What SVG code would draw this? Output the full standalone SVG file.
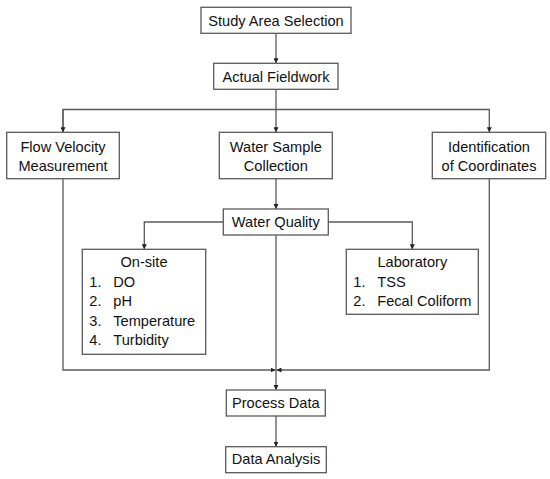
<svg xmlns="http://www.w3.org/2000/svg" width="550" height="479" viewBox="0 0 550 479">
<style>
.box{fill:#fff;stroke:#5a5a5a;stroke-width:1.3}
.ln{fill:none;stroke:#5a5a5a;stroke-width:1.3}
text{font-family:"Liberation Sans",Arial,sans-serif;font-size:14.6px;fill:#111}
.c{text-anchor:middle}
</style>
<defs>
<marker id="ah" viewBox="0 0 6 6" refX="6" refY="3" markerWidth="5" markerHeight="5" orient="auto" markerUnits="userSpaceOnUse">
<path d="M0,0 L6,3 L0,6 Z" fill="#222"/>
</marker>
</defs>
<rect width="550" height="479" fill="#fff"/>
<g id="connectors">
<path class="ln" d="M276,33.3 V63.3" marker-end="url(#ah)"/>
<path class="ln" d="M276,89.3 V132.3" marker-end="url(#ah)"/>
<path class="ln" d="M63,132.3 V109.5 H489.3 V132.3" marker-end="url(#ah)"/>
<path class="ln" d="M63,109.5 V132.3" marker-end="url(#ah)"/>
<path class="ln" d="M276,178.7 V209" marker-end="url(#ah)"/>
<path class="ln" d="M223.3,222 H144.3 V249.3" marker-end="url(#ah)"/>
<path class="ln" d="M328.3,222 H412.3 V249.3" marker-end="url(#ah)"/>
<path class="ln" d="M276,235 V390" marker-end="url(#ah)"/>
<path class="ln" d="M63,178.7 V370 H275.5" marker-end="url(#ah)"/>
<path class="ln" d="M489.3,178.7 V370 H276.5" marker-end="url(#ah)"/>
<path class="ln" d="M276,416 V446.7" marker-end="url(#ah)"/>
</g>
<g id="study-area">
<rect class="box" x="201" y="7.3" width="150" height="26"/>
<text class="c" x="276" y="26">Study Area Selection</text>
</g>
<g id="actual-fieldwork">
<rect class="box" x="213.7" y="63.3" width="124.3" height="26"/>
<text class="c" x="276" y="82">Actual Fieldwork</text>
</g>
<g id="flow-velocity">
<rect class="box" x="6.7" y="132.3" width="112.6" height="46.4"/>
<text class="c" x="63" y="151.7">Flow Velocity</text>
<text class="c" x="63" y="170.7">Measurement</text>
</g>
<g id="water-sample">
<rect class="box" x="219.3" y="132.3" width="113" height="46.4"/>
<text class="c" x="275.8" y="151.7">Water Sample</text>
<text class="c" x="275.8" y="170.7">Collection</text>
</g>
<g id="identification">
<rect class="box" x="432.3" y="132.3" width="113.4" height="46.4"/>
<text class="c" x="489" y="151.7">Identification</text>
<text class="c" x="489" y="170.7">of Coordinates</text>
</g>
<g id="water-quality">
<rect class="box" x="223.3" y="209" width="105" height="26"/>
<text class="c" x="275.8" y="226.7">Water Quality</text>
</g>
<g id="on-site">
<rect class="box" x="82.3" y="249.3" width="123.4" height="105"/>
<text class="c" x="144" y="266.7">On-site</text>
<text x="89.3" y="286.7">1.</text><text x="113.3" y="286.7">DO</text>
<text x="89.3" y="306">2.</text><text x="113.3" y="306">pH</text>
<text x="89.3" y="325.5">3.</text><text x="113.3" y="325.5">Temperature</text>
<text x="89.3" y="345">4.</text><text x="113.3" y="345">Turbidity</text>
</g>
<g id="laboratory">
<rect class="box" x="346.3" y="249.3" width="132" height="65"/>
<text class="c" x="412.3" y="266.7">Laboratory</text>
<text x="353.3" y="286.7">1.</text><text x="377.3" y="286.7">TSS</text>
<text x="353.3" y="306">2.</text><text x="377.3" y="306">Fecal Coliform</text>
</g>
<g id="process-data">
<rect class="box" x="226.3" y="390" width="99" height="26"/>
<text class="c" x="275.8" y="407.5">Process Data</text>
</g>
<g id="data-analysis">
<rect class="box" x="225.7" y="446.7" width="100.6" height="26"/>
<text class="c" x="276" y="464.3">Data Analysis</text>
</g>
</svg>
